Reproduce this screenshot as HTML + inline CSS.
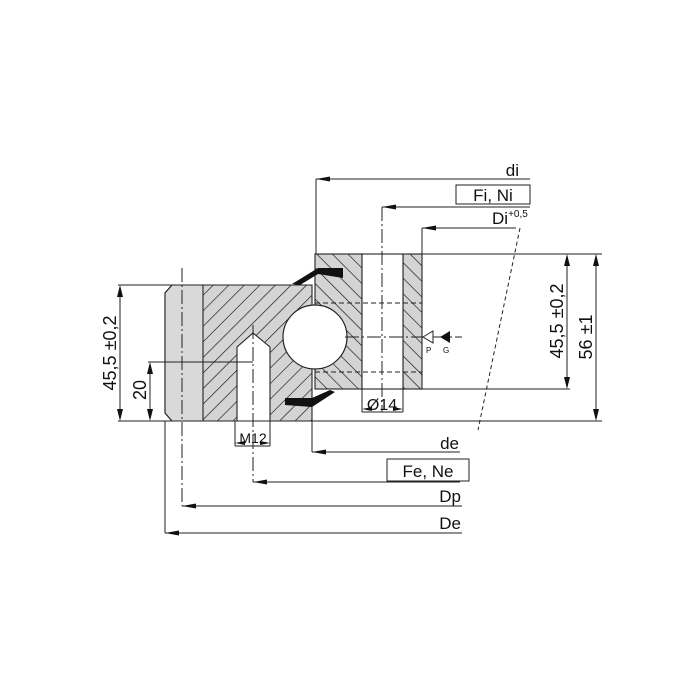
<!DOCTYPE html>
<html><head><style>body{margin:0;background:#fff}svg{display:block}text{font-family:"Liberation Sans",sans-serif;fill:#111}</style></head>
<body>
<svg width="700" height="700" viewBox="0 0 700 700" xmlns="http://www.w3.org/2000/svg">
<defs>
<pattern id="hA" patternUnits="userSpaceOnUse" width="11" height="11" patternTransform="rotate(45)">
<rect width="11" height="11" fill="#d4d4d4"/><line x1="0" y1="0" x2="0" y2="11" stroke="#111" stroke-width="1.3"/></pattern>
<pattern id="hB" patternUnits="userSpaceOnUse" width="11" height="11" patternTransform="rotate(-45)">
<rect width="11" height="11" fill="#d4d4d4"/><line x1="0" y1="0" x2="0" y2="11" stroke="#111" stroke-width="1.3"/></pattern>
<marker id="ar" markerUnits="userSpaceOnUse" markerWidth="14" markerHeight="6" refX="14" refY="3" orient="auto"><path d="M14,3 L0,0.5 L0,5.5Z" fill="#111"/></marker>
</defs>
<g stroke="#222" stroke-width="1.1">
<path d="M172,285 L312,285 L312,421 L172,421 L165,413 L165,293 Z" fill="url(#hA)"/>
<path d="M172,285 L203,285 L203,421 L172,421 L165,413 L165,293 Z" fill="#d9d9d9"/>
<rect x="315" y="254" width="47" height="135" fill="url(#hB)"/>
<rect x="403" y="254" width="19" height="135" fill="url(#hB)"/>
<rect x="362" y="254" width="41" height="135" fill="#fff"/>
<path d="M237,421 L237,347 L253,333 L270,347 L270,421" fill="#fff"/>
<circle cx="315" cy="337" r="32" fill="#fff" stroke-width="1.2"/>
</g>
<path d="M292,284 L318,268 L343,268 L343,278 L318,274 L300,285Z" fill="#111"/>
<path d="M285,398 L312,398 L330,390 L335,392 L312,407 L285,405Z" fill="#111"/>
<g stroke="#222" stroke-width="1" fill="none">
<line x1="315" y1="303" x2="422" y2="303" stroke-dasharray="5,3"/>
<line x1="315" y1="372" x2="422" y2="372" stroke-dasharray="5,3"/>
<line x1="382" y1="207" x2="382" y2="412" stroke-dasharray="14,3,2,3"/>
<line x1="182" y1="268" x2="182" y2="506" stroke-dasharray="14,3,2,3"/>
<line x1="253" y1="325" x2="253" y2="482" stroke-dasharray="14,3,2,3"/>
<line x1="345" y1="337" x2="462" y2="337" stroke-dasharray="14,3,2,3"/>
<line x1="520" y1="228" x2="478" y2="430" stroke-dasharray="4,3"/>
<line x1="316" y1="179" x2="316" y2="254"/>
<line x1="422" y1="228" x2="422" y2="254"/>
<line x1="422" y1="254" x2="602" y2="254"/>
<line x1="422" y1="389" x2="570" y2="389"/>
<line x1="118" y1="421" x2="602" y2="421"/>
<line x1="118" y1="285" x2="172" y2="285"/>
<line x1="148" y1="362" x2="253" y2="362"/>
<line x1="312" y1="421" x2="312" y2="452"/>
<line x1="165" y1="421" x2="165" y2="533"/>
<line x1="235" y1="421" x2="235" y2="446"/>
<line x1="270" y1="421" x2="270" y2="446"/>
<line x1="362" y1="389" x2="362" y2="412"/>
<line x1="403" y1="389" x2="403" y2="412"/>
<line x1="235" y1="446" x2="270" y2="446"/>
<line x1="362" y1="412" x2="403" y2="412"/>
<line x1="530" y1="179" x2="316" y2="179" marker-end="url(#ar)"/>
<line x1="530" y1="207" x2="382" y2="207" marker-end="url(#ar)"/>
<line x1="516" y1="228" x2="422" y2="228" marker-end="url(#ar)"/>
<line x1="460" y1="452" x2="312" y2="452" marker-end="url(#ar)"/>
<line x1="460" y1="482" x2="253" y2="482" marker-end="url(#ar)"/>
<line x1="462" y1="506" x2="182" y2="506" marker-end="url(#ar)"/>
<line x1="462" y1="533" x2="165" y2="533" marker-end="url(#ar)"/>
<line x1="120" y1="287" x2="120" y2="419"/>
<line x1="150" y1="364" x2="150" y2="419"/>
<line x1="567" y1="256" x2="567" y2="387"/>
<line x1="596" y1="256" x2="596" y2="419"/>
<rect x="456" y="185" width="74" height="19" fill="#fff"/>
<rect x="387" y="459" width="82" height="22" fill="#fff"/>
</g>
<g fill="#111">
<path d="M120,285 l-3,12 h6z M120,421 l-3,-12 h6z"/>
<path d="M150,362 l-3,12 h6z M150,421 l-3,-12 h6z"/>
<path d="M567,254 l-3,12 h6z M567,389 l-3,-12 h6z"/>
<path d="M596,254 l-3,12 h6z M596,421 l-3,-12 h6z"/>
<path d="M362,409 l10,-2 v4z M403,409 l-10,-2 v4z"/>
<path d="M235,443 l10,-2 v4z M270,443 l-10,-2 v4z"/>
</g>
<path d="M423,337 L433,331 L433,343Z" fill="#fff" stroke="#222"/>
<path d="M440,337 L450,331 L450,343Z" fill="#111"/>
<text x="426" y="353" font-size="8">P</text><text x="443" y="353" font-size="8">G</text>
<text x="519" y="176" font-size="17" text-anchor="end">di</text>
<text x="493" y="201" font-size="17" text-anchor="middle">Fi, Ni</text>
<text x="492" y="224" font-size="17">Di<tspan font-size="10" dy="-7">+0,5</tspan></text>
<text x="459" y="449" font-size="17" text-anchor="end">de</text>
<text x="428" y="477" font-size="17" text-anchor="middle">Fe, Ne</text>
<text x="461" y="502" font-size="17" text-anchor="end">Dp</text>
<text x="461" y="529" font-size="17" text-anchor="end">De</text>
<text x="382" y="410" font-size="16" text-anchor="middle">Ø14</text>
<text x="253" y="443" font-size="14" text-anchor="middle">M12</text>
<text transform="translate(116,353) rotate(-90)" font-size="18" text-anchor="middle">45,5 ±0,2</text>
<text transform="translate(146,390) rotate(-90)" font-size="18" text-anchor="middle">20</text>
<text transform="translate(563,321) rotate(-90)" font-size="18" text-anchor="middle">45,5 ±0,2</text>
<text transform="translate(592,337) rotate(-90)" font-size="18" text-anchor="middle">56 ±1</text>
</svg>
</body></html>
